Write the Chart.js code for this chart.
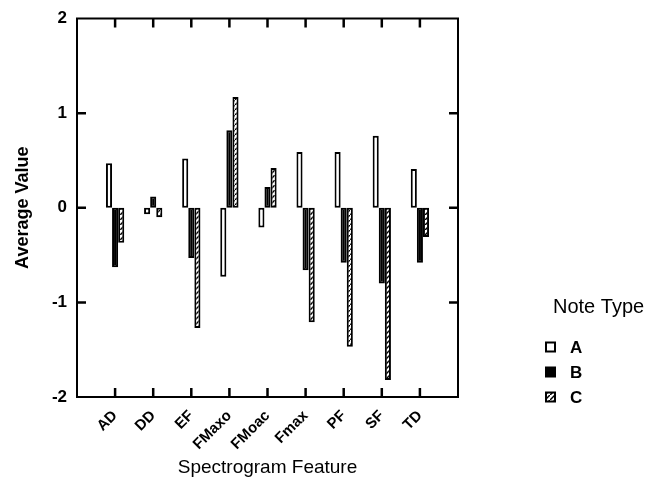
<!DOCTYPE html>
<html>
<head>
<meta charset="utf-8">
<script src="https://cdn.jsdelivr.net/npm/chart.js@4.4.1/dist/chart.umd.min.js"></script>
<style>
  html, body { margin: 0; padding: 0; background: #fff; }
  #wrap { width: 659px; height: 489px; }
</style>
</head>
<body>
<div id="wrap"><canvas id="chart"></canvas></div>
<script>
// features on the x axis
const features = ['AD', 'DD', 'EF', 'FMaxo', 'FMoac', 'Fmax', 'PF', 'SF', 'TD'];
// average values per note type
const noteA = [0.47, -0.07, 0.52, -0.73, -0.21, 0.59, 0.59, 0.76, 0.41];
const noteB = [-0.63, 0.12, -0.53, 0.82, 0.22, -0.66, -0.58, -0.80, -0.58];
const noteC = [-0.37, -0.10, -1.27, 1.17, 0.42, -1.21, -1.47, -1.82, -0.31];
const yTicks = [-2, -1, 0, 1, 2];

// hatch for type C
function makeHatch() {
    const c = document.createElement('canvas');
    c.width = 5; c.height = 5;
    const g = c.getContext('2d');
    g.fillStyle = '#fff';
    g.fillRect(0, 0, 5, 5);
    g.strokeStyle = '#000';
    g.lineWidth = 1.5;
    g.beginPath();
    g.moveTo(0, 5); g.lineTo(5, 0);
    g.stroke();
    return g.createPattern(c, 'repeat');
}
const hatch = makeHatch();

// empty slots at both ends so the features sit at 1..9 on a 0..10 span
const pad = arr => [null, ...arr, null];

// box around the plot with inward ticks
const framePlugin = {
    id: 'frame',
    afterDatasetsDraw(chart) {
        const { ctx, chartArea: a, scales } = chart;
        ctx.save();
        ctx.strokeStyle = '#000';
        ctx.lineWidth = 2;
        ctx.strokeRect(a.left, a.top, a.right - a.left, a.bottom - a.top);
        ctx.lineWidth = 2.5;
        ctx.beginPath();
        [-1, 0, 1].forEach(v => {
            const y = scales.y.getPixelForValue(v);
            ctx.moveTo(a.left, y); ctx.lineTo(a.left + 9, y);
            ctx.moveTo(a.right, y); ctx.lineTo(a.right - 9, y);
        });
        features.forEach((f, i) => {
            const x = scales.x.getPixelForValue(i + 1);
            ctx.moveTo(x, a.top); ctx.lineTo(x, a.top + 9);
            ctx.moveTo(x, a.bottom); ctx.lineTo(x, a.bottom - 9);
        });
        ctx.stroke();
        ctx.restore();
    }
};

// legend drawn to the right of the plot
const legendPlugin = {
    id: 'noteLegend',
    afterDraw(chart) {
        const { ctx } = chart;
        ctx.save();
        ctx.fillStyle = '#000';
        ctx.font = '20px "Liberation Sans", Arial, sans-serif';
        ctx.textBaseline = 'middle';
        ctx.fillText('Note Type', 553, 307);
        ctx.font = 'bold 17px "Liberation Sans", Arial, sans-serif';
        chart.data.datasets.forEach((ds, i) => {
            const y = 347 + i * 25;
            ctx.fillStyle = ds.backgroundColor;
            ctx.fillRect(546, y - 4.5, 9, 9);
            ctx.strokeStyle = '#000';
            ctx.lineWidth = 2;
            ctx.strokeRect(546, y - 4.5, 9, 9);
            ctx.fillStyle = '#000';
            ctx.fillText(ds.label, 570, y + 1);
        });
        ctx.restore();
    }
};

const ctx = document.getElementById('chart').getContext('2d');
new Chart(ctx, {
    type: 'bar',
    data: {
        labels: ['', ...features, ''],
        datasets: [
            { label: 'A', data: pad(noteA), backgroundColor: '#ffffff' },
            { label: 'B', data: pad(noteB), backgroundColor: '#000000' },
            { label: 'C', data: pad(noteC), backgroundColor: hatch }
        ]
    },
    options: {
        responsive: true,
        maintainAspectRatio: false,
        animation: false,
        layout: { padding: { top: 18, right: 201, left: 0, bottom: 0 } },
        datasets: {
            bar: {
                borderColor: '#000',
                borderWidth: 2,
                borderSkipped: false,
                categoryPercentage: 0.48,
                barPercentage: 1.0
            }
        },
        plugins: {
            legend: { display: false },
            tooltip: { enabled: false }
        },
        scales: {
            x: {
                offset: false,
                grid: { display: false },
                border: { display: false },
                ticks: {
                    autoSkip: false,
                    minRotation: 45,
                    maxRotation: 45,
                    padding: 2,
                    color: '#000',
                    font: { family: '"Liberation Sans", Arial, sans-serif', size: 15, weight: 'bold' }
                },
                title: {
                    display: true,
                    text: 'Spectrogram Feature',
                    color: '#000',
                    padding: { top: 0, bottom: 10 },
                    font: { family: '"Liberation Sans", Arial, sans-serif', size: 19 }
                },
                afterFit(s) { s.height = 92; }
            },
            y: {
                min: -2,
                max: 2,
                grid: { display: false, tickLength: 0 },
                border: { display: false },
                afterBuildTicks(s) { s.ticks = yTicks.map(v => ({ value: v })); },
                ticks: {
                    padding: 10,
                    color: '#000',
                    font: { family: '"Liberation Sans", Arial, sans-serif', size: 17, weight: 'bold', lineHeight: 1 }
                },
                title: {
                    display: true,
                    text: 'Average Value',
                    color: '#000',
                    padding: { top: 12, bottom: 0 },
                    font: { family: '"Liberation Sans", Arial, sans-serif', size: 18, weight: 'bold' }
                },
                afterFit(s) { s.width = 77; }
            }
        }
    },
    plugins: [framePlugin, legendPlugin]
});
</script>
</body>
</html>
